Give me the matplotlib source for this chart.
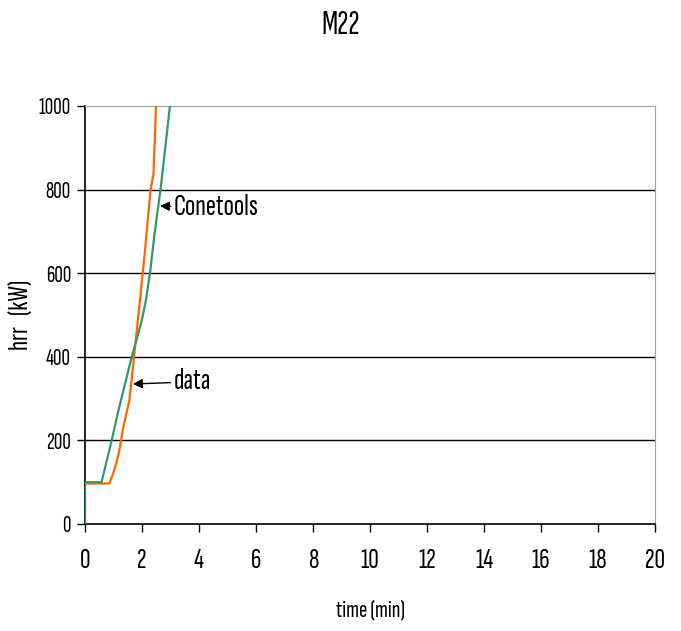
import matplotlib
matplotlib.use("Agg")
import matplotlib.pyplot as plt

# thin, narrow font like the reference
plt.rcParams["font.family"] = ["Sofia Sans Extra Condensed", "Saira ExtraCondensed", "DejaVu Sans"]
plt.rcParams["font.weight"] = "light"

# data
data_t = [0.0, 0.0, 0.85, 0.99, 1.12, 1.23, 1.35, 1.56, 1.72, 1.93, 2.10, 2.30, 2.40, 2.45, 2.49]
data_v = [0, 97, 97, 121, 150, 185, 233, 297, 400, 536, 650, 800, 835, 920, 1000]

cone_t = [0.0, 0.0, 0.58, 0.94, 1.15, 1.35, 1.64, 1.84, 2.0, 2.14, 2.28, 2.45, 2.65, 2.80, 2.98]
cone_v = [0, 100, 100, 201, 265, 320, 400, 448, 490, 536, 600, 700, 800, 890, 1000]

xticks = list(range(0, 21, 2))
yticks = list(range(0, 1001, 200))

fig = plt.figure(figsize=(6.81, 6.31), dpi=100)
ax = fig.add_axes([85 / 681, 107 / 631, 570 / 681, 418 / 631])

for y in yticks[1:-1]:
    ax.axhline(y, color="black", lw=1, zorder=1)

ax.plot(data_t, data_v, color="#ff6600", lw=1.6, zorder=3)
ax.plot(cone_t, cone_v, color="#339966", lw=1.6, zorder=3)

ax.set_xlim(0, 20)
ax.set_ylim(0, 1000)
ax.set_xticks(xticks)
ax.set_yticks(yticks)
ax.tick_params(axis="x", direction="out", length=6, width=1, labelsize=21, pad=12)
ax.tick_params(axis="y", direction="out", length=6, width=1, labelsize=17, pad=4)
ax.spines["top"].set_color("#a0a0a0")
ax.spines["right"].set_color("#a0a0a0")
ax.spines["left"].set_linewidth(1.2)
ax.spines["bottom"].set_linewidth(1.2)

ax.set_xlabel("time (min)", fontsize=18)
ax.xaxis.set_label_coords(0.5, -0.18)
ax.set_ylabel("hrr   (kW)", fontsize=21)
ax.yaxis.set_label_coords(-0.09, 0.5)
fig.text(0.5, 1 - 25 / 631, "M22", fontsize=24, ha="center", va="center")

arrow = dict(arrowstyle="-|>", color="black", lw=1, mutation_scale=14, shrinkA=0, shrinkB=0)
ax.annotate("Conetools", xy=(2.63, 761), xytext=(3.1, 756), fontsize=22,
            va="center", arrowprops=arrow)
ax.annotate("data", xy=(1.68, 335), xytext=(3.1, 340), fontsize=22,
            va="center", arrowprops=arrow)

fig.savefig("out.png", dpi=100)
